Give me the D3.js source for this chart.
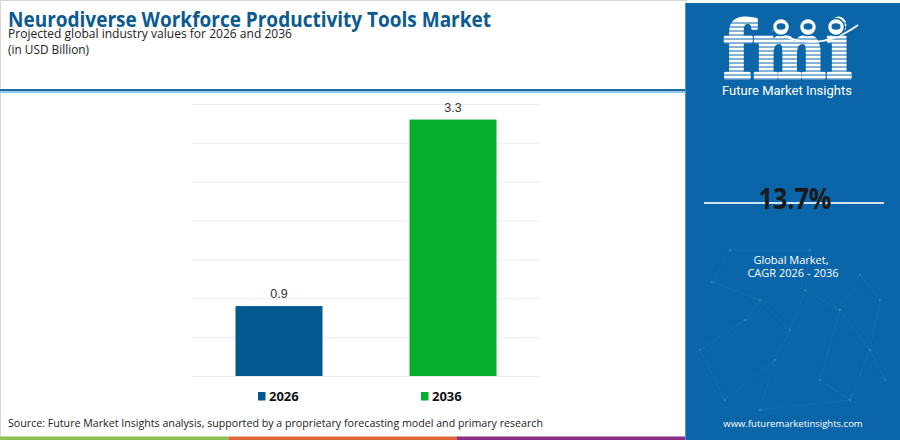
<!DOCTYPE html>
<html>
<head>
<meta charset="utf-8">
<script src="https://cdn.jsdelivr.net/npm/d3@7"></script>
<style>
	body { margin: 0; background: #fff; }
	svg { display: block; }
</style>
</head>
<body>
<svg id="chart" width="900" height="440"></svg>
<script>
// Data
var years = ['2026', '2036'],
	values = [0.9, 3.3],
	barColors = ['#03588f', '#07ad2c'],
	gridTicks = [0, 0.5, 1, 1.5, 2, 2.5, 3, 3.5];

var cagr = '13.7%',
	title = 'Neurodiverse Workforce Productivity Tools Market',
	subtitle = 'Projected global industry values for 2026 and 2036',
	unitLabel = '(in USD Billion)',
	source = 'Source: Future Market Insights analysis, supported by a proprietary forecasting model and primary research';

var svg = d3.select('#chart');
var font = "'Open Sans', 'Noto Sans', sans-serif";

// Frame of the left card
svg.append('rect')
	.attr('x', 0.5).attr('y', 0.5)
	.attr('width', 686).attr('height', 437)
	.attr('fill', '#fff')
	.attr('stroke', '#d6d6d6');

// Header
svg.append('text')
	.attr('x', 8).attr('y', 27)
	.attr('textLength', 483).attr('lengthAdjust', 'spacingAndGlyphs')
	.style('font-family', font).style('font-weight', 700).style('font-size', '21px')
	.style('fill', '#0b5a90')
	.text(title);

svg.append('text')
	.attr('x', 8).attr('y', 38)
	.attr('textLength', 284).attr('lengthAdjust', 'spacingAndGlyphs')
	.style('font-family', font).style('font-size', '12.5px').style('fill', '#222')
	.text(subtitle);

svg.append('text')
	.attr('x', 8).attr('y', 54)
	.attr('textLength', 81).attr('lengthAdjust', 'spacingAndGlyphs')
	.style('font-family', font).style('font-size', '12.5px').style('fill', '#222')
	.text(unitLabel);

// header rule
svg.append('rect').attr('x', 0).attr('y', 89).attr('width', 686).attr('height', 2.2).attr('fill', '#1c6aa3');
svg.append('rect').attr('x', 0).attr('y', 91.2).attr('width', 686).attr('height', 1.8).attr('fill', '#8cc3e8');

// Chart area
var x = d3.scaleBand()
	.domain(years)
	.range([192, 540])
	.paddingInner(0.5)
	.paddingOuter(0.25);

var y = d3.scaleLinear()
	.domain([0, 3.5])
	.range([376, 104]);

var grid = svg.append('g')
	.attr('transform', 'translate(192,0)')
	.call(d3.axisLeft(y).tickValues(gridTicks).tickSize(-348).tickFormat(''));
grid.select('.domain').remove();
grid.selectAll('.tick line').attr('stroke', '#ececec').attr('stroke-width', 1);

svg.selectAll('.bar')
	.data(values)
	.enter().append('rect')
	.attr('class', 'bar')
	.attr('x', function(d, i) { return x(years[i]); })
	.attr('y', function(d) { return y(d); })
	.attr('width', x.bandwidth())
	.attr('height', function(d) { return y(0) - y(d); })
	.attr('fill', function(d, i) { return barColors[i]; });

svg.selectAll('.bar-label')
	.data(values)
	.enter().append('text')
	.attr('class', 'bar-label')
	.attr('x', function(d, i) { return x(years[i]) + x.bandwidth() / 2; })
	.attr('y', function(d) { return y(d) - 8; })
	.attr('text-anchor', 'middle')
	.style('font-family', "'Liberation Sans', Arial, sans-serif")
	.style('font-size', '12.5px').style('fill', '#333')
	.text(function(d) { return d.toFixed(1); });

// Legend
var legendX = [258, 421];
var legend = svg.selectAll('.legend')
	.data(years)
	.enter().append('g')
	.attr('class', 'legend')
	.attr('transform', function(d, i) { return 'translate(' + legendX[i] + ',392)'; });
legend.append('rect')
	.attr('width', 7.5).attr('height', 8.5)
	.attr('fill', function(d, i) { return barColors[i]; });
legend.append('text')
	.attr('x', 11).attr('y', 8.7)
	.style('font-family', font).style('font-weight', 700).style('font-size', '13px')
	.style('fill', '#111')
	.text(function(d) { return d; });

// Source
svg.append('text')
	.attr('x', 8).attr('y', 427)
	.attr('textLength', 535).attr('lengthAdjust', 'spacingAndGlyphs')
	.style('font-family', font).style('font-size', '11.5px').style('fill', '#222')
	.text(source);

// Bottom stripe
var stripeColors = ['#8bc152', '#e1663a', '#8b2e88'];
svg.selectAll('.stripe')
	.data(stripeColors)
	.enter().append('rect')
	.attr('x', function(d, i) { return i * 228.5; })
	.attr('y', 436.5).attr('width', 228.5).attr('height', 3.5)
	.attr('fill', function(d) { return d; });

// Right panel
var panel = svg.append('g');
panel.append('rect')
	.attr('x', 685).attr('y', 3).attr('width', 215).attr('height', 437)
	.attr('fill', '#0a66a8');
panel.append('rect')
	.attr('x', 685).attr('y', 3).attr('width', 1).attr('height', 437)
	.attr('fill', '#4d97cc');

// faint network texture
var nodes = [[712, 282], [730, 250], [745, 320], [760, 300], [775, 360], [700, 350], [790, 330],
	[805, 290], [820, 380], [840, 310], [860, 275], [880, 300], [870, 350], [850, 400], [725, 400],
	[760, 410], [885, 380], [810, 250]];
var links = [[0, 1], [0, 3], [1, 17], [2, 3], [2, 5], [3, 6], [4, 6], [4, 14], [5, 14], [6, 7],
	[7, 9], [7, 17], [8, 9], [8, 13], [9, 10], [10, 11], [11, 12], [12, 16], [12, 13], [4, 15], [15, 13], [9, 12]];
panel.selectAll('.net')
	.data(links)
	.enter().append('line')
	.attr('x1', function(d) { return nodes[d[0]][0]; })
	.attr('y1', function(d) { return nodes[d[0]][1]; })
	.attr('x2', function(d) { return nodes[d[1]][0]; })
	.attr('y2', function(d) { return nodes[d[1]][1]; })
	.attr('stroke', 'rgba(140,200,235,0.08)').attr('stroke-width', 1);
panel.selectAll('.node')
	.data(nodes)
	.enter().append('circle')
	.attr('cx', function(d) { return d[0]; })
	.attr('cy', function(d) { return d[1]; })
	.attr('r', 1.3)
	.attr('fill', 'rgba(160,210,240,0.18)');

// Logo
var logo = panel.append('g');
logo.append('text')
	.attr('x', 723).attr('y', 78)
	.attr('textLength', 129).attr('lengthAdjust', 'spacingAndGlyphs')
	.style('font-family', "'DejaVu Serif', serif").style('font-weight', 700).style('font-size', '78px')
	.style('fill', '#fff').style('stroke', '#fff').style('stroke-width', 3).style('stroke-linejoin', 'round')
	.text('fmi');
logo.selectAll('.stripe-line')
	.data(d3.range(23, 81, 4))
	.enter().append('line')
	.attr('x1', 718).attr('x2', 858)
	.attr('y1', function(d) { return d; }).attr('y2', function(d) { return d; })
	.attr('stroke', '#0a66a8').attr('stroke-width', 1);
logo.append('path')
	.attr('d', 'M772,30 Q815,56 858,25')
	.attr('fill', 'none').attr('stroke', '#fff').attr('stroke-width', 1.6);
[781, 808, 836].forEach(function(cx) {
	logo.append('circle').attr('cx', cx).attr('cy', 27).attr('r', 8.5)
		.attr('fill', '#fff').attr('stroke', '#0a66a8').attr('stroke-width', 1.5);
	logo.append('ellipse').attr('cx', cx).attr('cy', 26.5).attr('rx', 4.5).attr('ry', 3.2)
		.attr('fill', '#0a66a8');
});
logo.append('text')
	.attr('x', 722).attr('y', 95)
	.attr('textLength', 130).attr('lengthAdjust', 'spacingAndGlyphs')
	.style('font-family', "Roboto, sans-serif").style('font-size', '13px')
	.style('fill', '#fff')
	.text('Future Market Insights');

// CAGR
panel.append('line')
	.attr('x1', 704).attr('x2', 884).attr('y1', 203).attr('y2', 203)
	.attr('stroke', '#cfe4f3').attr('stroke-width', 2);
panel.append('text')
	.attr('x', 795).attr('y', 209)
	.attr('text-anchor', 'middle')
	.attr('textLength', 73).attr('lengthAdjust', 'spacingAndGlyphs')
	.style('font-family', font).style('font-weight', 700).style('font-size', '28px')
	.style('fill', '#1a1a1a')
	.text(cagr);

panel.append('text')
	.attr('x', 791).attr('y', 264)
	.attr('text-anchor', 'middle')
	.style('font-family', font).style('font-size', '11px').style('fill', '#fff')
	.text('Global Market,');
panel.append('text')
	.attr('x', 793).attr('y', 277)
	.attr('text-anchor', 'middle')
	.style('font-family', font).style('font-size', '11px').style('fill', '#fff')
	.text('CAGR 2026 - 2036');

panel.append('text')
	.attr('x', 793).attr('y', 427)
	.attr('text-anchor', 'middle')
	.style('font-family', font).style('font-size', '9.5px').style('fill', '#fff')
	.text('www.futuremarketinsights.com');
</script>
</body>
</html>
